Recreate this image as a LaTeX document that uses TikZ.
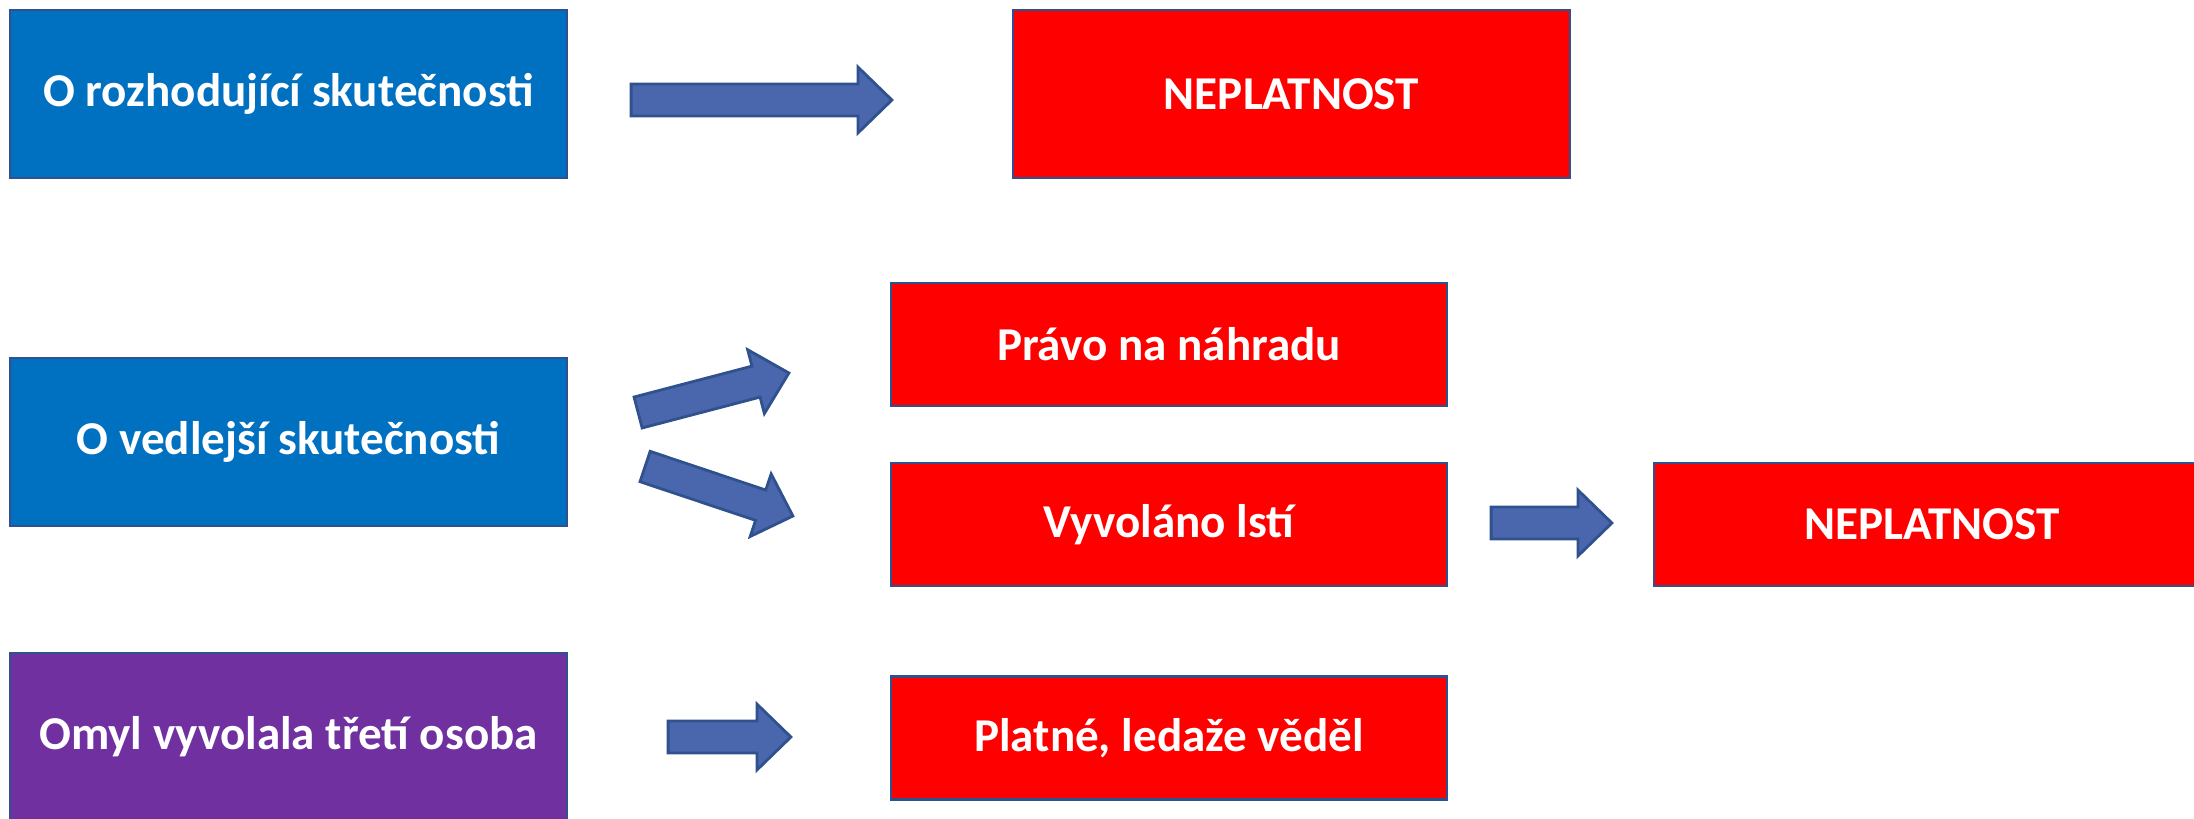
\documentclass[tikz,border=0pt]{standalone}
\usepackage{fontspec}
\setmainfont{Carlito}
\usepackage{tikz}
\usetikzlibrary{positioning}
\usetikzlibrary{calc}
\definecolor{fblue}{HTML}{0070C0}
\definecolor{fred}{HTML}{FF0000}
\definecolor{fpurple}{HTML}{7030A0}
\definecolor{farrow}{HTML}{4A66AC}
\definecolor{fedge}{HTML}{2F528F}
\tikzstyle{box} = [draw=fedge, line width=0.22mm, rectangle, inner sep=0pt,
text=white, font=\fontsize{13.4}{16}\selectfont\bfseries]
\tikzstyle{bigbox} = [box, minimum width=55.7cm/10, minimum height=16.8cm/10]
\tikzstyle{redbox} = [box, fill=fred, minimum width=55.6cm/10, minimum height=12.3cm/10]
\tikzstyle{blockarrow} = [draw=fedge, fill=farrow, line width=0.28mm, line join=miter]
% block arrow from #1 to #2
\newcommand{\blockarrow}[2]{%
  \coordinate (neck) at ($(#2)!3.4mm!(#1)$);
  \path[blockarrow] ($(#1)!1.6mm!-90:(#2)$) -- ($(neck)!1.6mm!-90:(#2)$)
    -- ($(neck)!3.3mm!-90:(#2)$) -- (#2) -- ($(neck)!3.3mm!90:(#2)$)
    -- ($(neck)!1.6mm!90:(#2)$) -- ($(#1)!1.6mm!90:(#2)$) -- cycle;}

\begin{document}
\begin{tikzpicture}[x=0.1mm, y=-0.1mm]
    \clip (0,0) rectangle (2194,818);
    %% left column
    \node[bigbox, fill=fblue] (rozh) at (288.5,94) {O rozhodující skutečnosti};
    \node[bigbox, fill=fblue] (vedl) at (288.5,442) {O vedlejší skutečnosti};
    \node[bigbox, fill=fpurple] (treti) at (288.5,737) {Omyl vyvolala třetí osoba};
    %% results
    \node[bigbox, fill=fred] (nep1) at (1291.5,94) {NEPLATNOST};
    \node[redbox] (pravo) at (1169,344.5) {Právo na náhradu};
    \node[redbox] (lest) at (1169,524.5) {Vyvoláno lstí};
    \node[redbox] (nep2) at (1932,524.5) {NEPLATNOST};
    \node[redbox] (platne) at (1169,738) {Platné, ledaže věděl};
    %% arrow ends
    \coordinate (a1s) at ($(rozh.east)+(63,6)$);
    \coordinate (a1e) at ($(nep1.west)+(-120,6)$);
    \coordinate (a2s) at ($(vedl.east)+(70,-29.5)$);
    \coordinate (a2e) at ($(pravo.west)+(-101,28.5)$);
    \coordinate (a3s) at ($(vedl.east)+(77,24.5)$);
    \coordinate (a3e) at ($(lest.west)+(-97,-8.5)$);
    \coordinate (a4s) at ($(lest.east)+(43,-1.5)$);
    \coordinate (a4e) at ($(nep2.west)+(-41,-1.5)$);
    \coordinate (a5s) at ($(treti.east)+(100,0)$);
    \coordinate (a5e) at ($(platne.west)+(-99,-1)$);
    %% arrows
    \blockarrow{a1s}{a1e}
    \blockarrow{a2s}{a2e}
    \blockarrow{a3s}{a3e}
    \blockarrow{a4s}{a4e}
    \blockarrow{a5s}{a5e}
\end{tikzpicture}
\end{document}
